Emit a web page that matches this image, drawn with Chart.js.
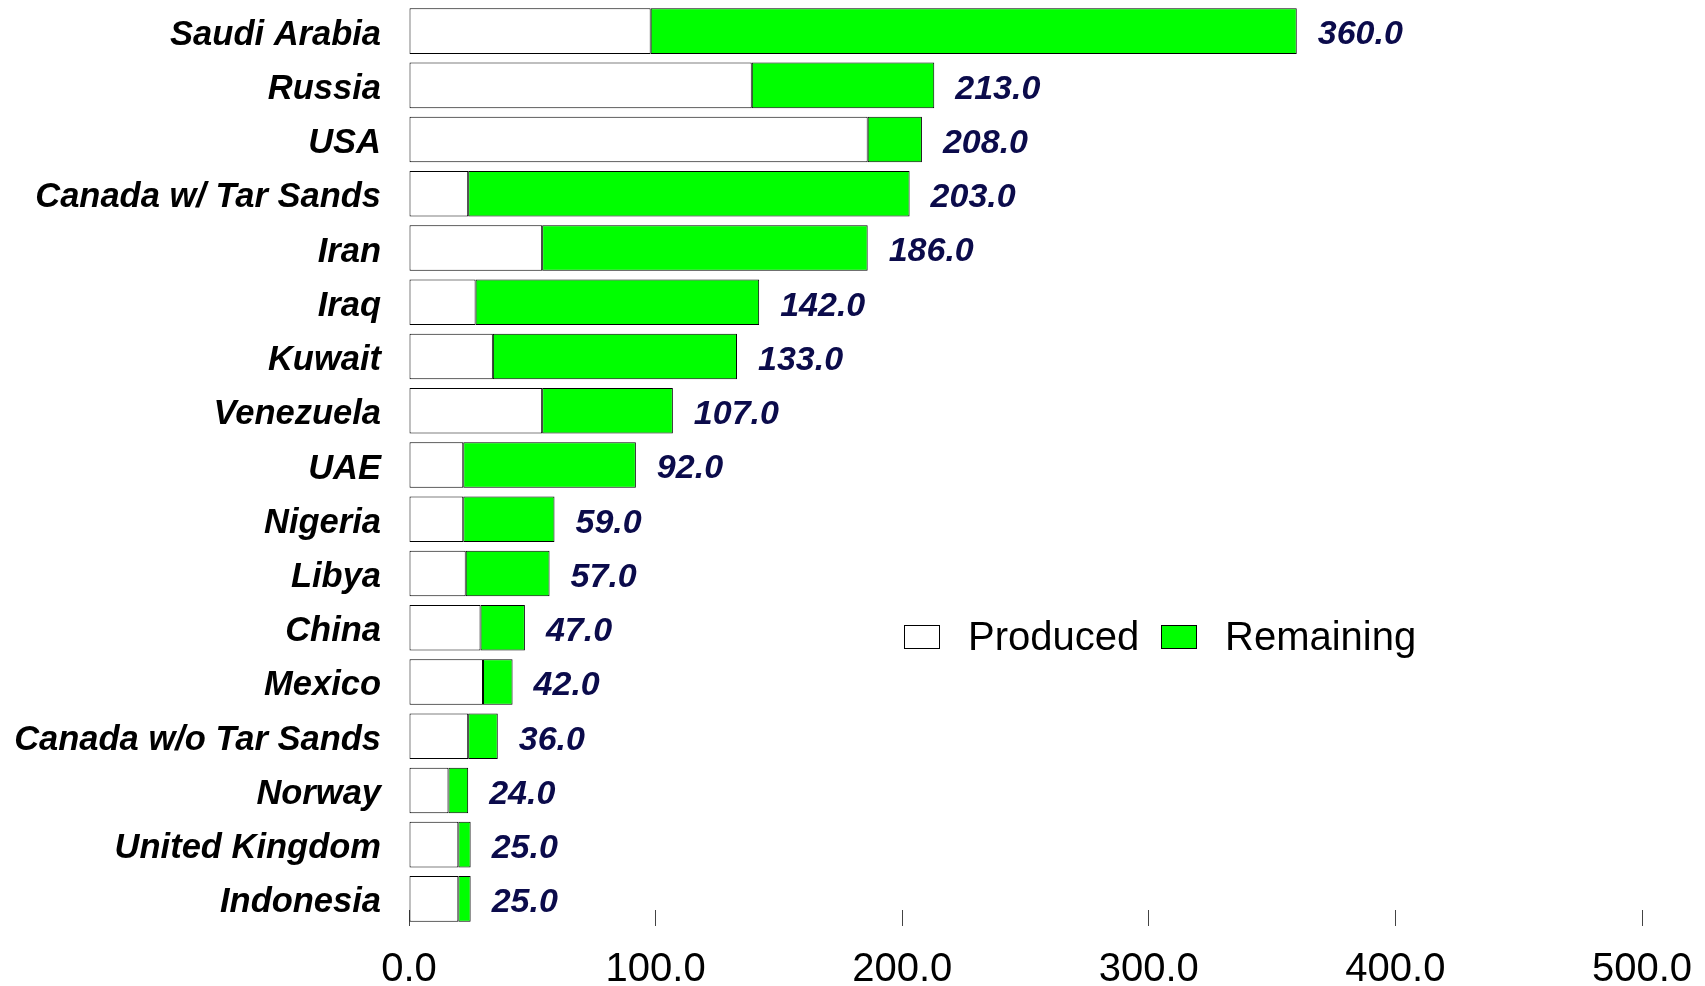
<!DOCTYPE html>
<html>
<head>
<meta charset="utf-8">
<script src="https://cdn.jsdelivr.net/npm/chart.js@4/dist/chart.umd.min.js"></script>
<style>
  body { margin: 0; background: #fff; }
  #wrap { width: 1705px; height: 986px; position: relative; }
</style>
</head>
<body>
<div id="wrap"><canvas id="reservesChart"></canvas></div>
<script>
// countries, biggest reserves first
const countries = [
    'Saudi Arabia', 'Russia', 'USA', 'Canada w/ Tar Sands', 'Iran', 'Iraq',
    'Kuwait', 'Venezuela', 'UAE', 'Nigeria', 'Libya', 'China', 'Mexico',
    'Canada w/o Tar Sands', 'Norway', 'United Kingdom', 'Indonesia'
];

// already produced (white part of the bar)
const produced = [98, 139, 186, 24, 54, 27, 34, 54, 22, 22, 23, 29, 30, 24, 16, 20, 20];

// still remaining (green part of the bar)
const remaining = [262, 74, 22, 179, 132, 115, 99, 53, 70, 37, 34, 18, 12, 12, 8, 5, 5];

// ticks on the x axis
const xTicks = [0, 100, 200, 300, 400, 500];

const FONT = "'Liberation Sans', Arial, sans-serif";

// write the total at the end of each stacked bar
const totalLabels = {
    id: 'totalLabels',
    afterDatasetsDraw(chart) {
        const ctx = chart.ctx;
        const last = chart.getDatasetMeta(chart.data.datasets.length - 1);
        ctx.save();
        ctx.font = 'italic bold 34px ' + FONT;
        ctx.fillStyle = '#0b0b4b';
        ctx.textAlign = 'left';
        ctx.textBaseline = 'middle';
        last.data.forEach((bar, i) => {
            let total = 0;
            chart.data.datasets.forEach(ds => { total += ds.data[i]; });
            ctx.fillText(total.toFixed(1), bar.x + 21, bar.y + 4);
        });
        ctx.restore();
    }
};

// legend sits inside the plot, so draw it by hand
const innerLegend = {
    id: 'innerLegend',
    afterDraw(chart) {
        const ctx = chart.ctx;
        const spots = [904, 1161];
        ctx.save();
        ctx.font = '40px ' + FONT;
        ctx.textBaseline = 'middle';
        chart.data.datasets.forEach((ds, i) => {
            const x = spots[i];
            ctx.fillStyle = ds.backgroundColor;
            ctx.fillRect(x, 625, 35, 23);
            ctx.strokeStyle = '#000';
            ctx.lineWidth = 1;
            ctx.strokeRect(x + 0.5, 625.5, 35, 23);
            ctx.fillStyle = '#000';
            ctx.fillText(ds.label, x + 64, 639);
        });
        ctx.restore();
    }
};

const barCanvas = document.getElementById('reservesChart').getContext('2d');
new Chart(barCanvas, {
    type: 'bar',
    data: {
        labels: countries,
        datasets: [
            {
                label: 'Produced',
                data: produced,
                backgroundColor: '#ffffff',
                borderColor: '#000000',
                borderWidth: 1,
                borderSkipped: false
            },
            {
                label: 'Remaining',
                data: remaining,
                backgroundColor: '#00ff00',
                borderColor: '#000000',
                borderWidth: 1,
                borderSkipped: false
            }
        ]
    },
    options: {
        indexAxis: 'y',
        responsive: true,
        maintainAspectRatio: false,
        animation: false,
        datasets: {
            bar: { categoryPercentage: 1, barPercentage: 0.84 }
        },
        layout: { padding: { top: 4, right: 63, left: 0, bottom: 0 } },
        scales: {
            x: {
                stacked: true,
                min: 0,
                max: 500,
                afterBuildTicks: function(scale) {
                    scale.ticks = xTicks.map(v => ({ value: v }));
                },
                afterFit: function(scale) {
                    scale.height = 60;
                    scale.paddingLeft = 0;
                    scale.paddingRight = 0;
                },
                ticks: {
                    callback: v => v.toFixed(1),
                    color: '#000',
                    font: { family: FONT, size: 40 },
                    padding: 36,
                    maxRotation: 0,
                    autoSkip: false
                },
                grid: {
                    drawOnChartArea: false,
                    drawTicks: true,
                    tickLength: -16,
                    color: '#444'
                },
                border: { display: false }
            },
            y: {
                stacked: true,
                afterFit: function(scale) {
                    scale.width = 409;
                    scale.paddingTop = 0;
                    scale.paddingBottom = 0;
                },
                ticks: {
                    color: '#000',
                    font: { family: FONT, size: 34.5, weight: 'bold', style: 'italic' },
                    padding: 28,
                    labelOffset: 4,
                    autoSkip: false
                },
                grid: { display: false, drawTicks: false },
                border: { display: false }
            }
        },
        plugins: {
            legend: { display: false },
            tooltip: { enabled: false }
        }
    },
    plugins: [totalLabels, innerLegend]
});
</script>
</body>
</html>
